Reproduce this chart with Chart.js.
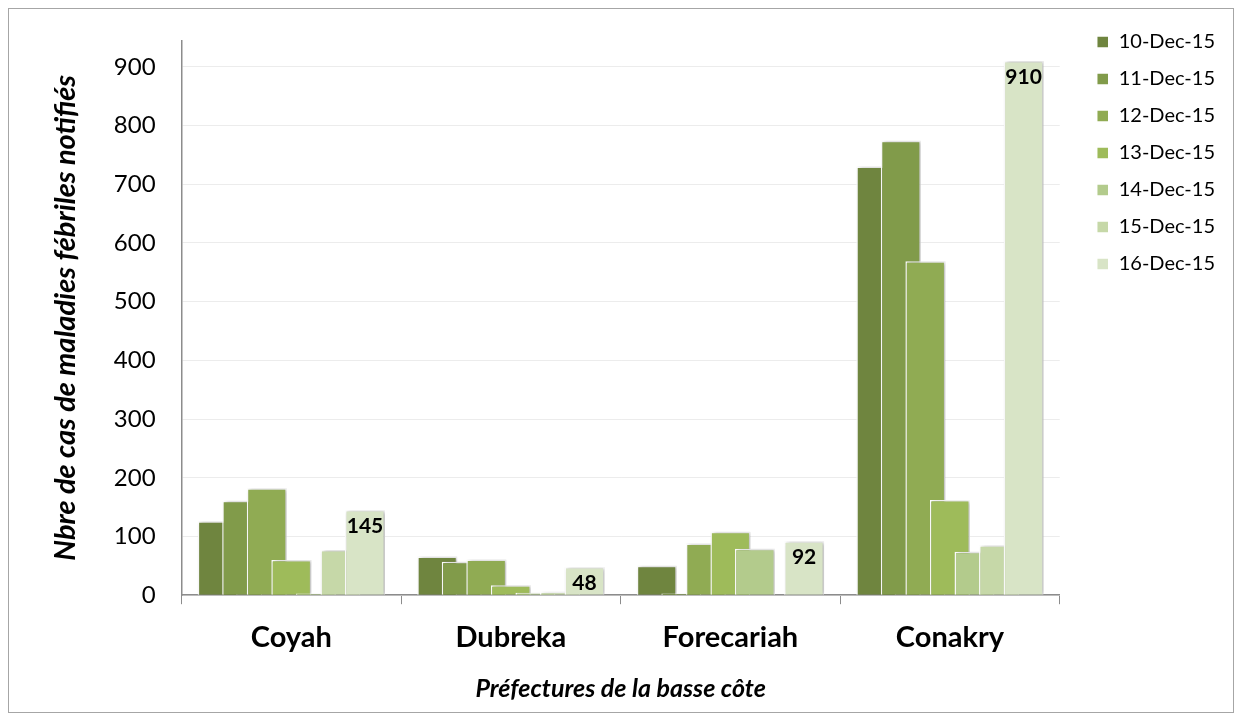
<!DOCTYPE html>
<html>
<head>
<meta charset="utf-8">
<script src="https://cdn.jsdelivr.net/npm/chart.js@4.4.1/dist/chart.umd.min.js"></script>
<style>
    html, body { margin: 0; padding: 0; background: #fff; }
    #frame {
        position: absolute; left: 8px; top: 8px;
        width: 1224px; height: 703px;
        border: 1px solid #a6a6a6;
    }
    #wrap { position: absolute; left: 0; top: 0; width: 1241px; height: 721px; }
</style>
</head>
<body>
<div id="frame"></div>
<div id="wrap"><canvas id="chart"></canvas></div>
<script>
const prefectures = ['Coyah', 'Dubreka', 'Forecariah', 'Conakry'];
const dates = ['10-Dec-15', '11-Dec-15', '12-Dec-15', '13-Dec-15', '14-Dec-15', '15-Dec-15', '16-Dec-15'];

// one array per day, values per prefecture
const dec10 = [126, 66, 50, 730];
const dec11 = [161, 57, 3, 774];
const dec12 = [182, 61, 88, 569];
const dec13 = [60, 17, 108, 162];
const dec14 = [3, 4, 79, 74];
const dec15 = [77, 6, 0, 85];
const dec16 = [145, 48, 92, 910];

const yTicks = [0, 100, 200, 300, 400, 500, 600, 700, 800, 900];

const seriesValues = [dec10, dec11, dec12, dec13, dec14, dec15, dec16];
const colors = ['#6f853f', '#819b4a', '#90ab53', '#9ebb5a', '#b3cb8c', '#c6d8a8', '#d8e4c6'];

const FONT = 'Lato, "Open Sans", sans-serif';

// bars overlap: draw first day first so later days sit on top
const forwardDraw = {
    id: 'forwardDraw',
    beforeDatasetsDraw(chart) {
        const metas = chart.getSortedVisibleDatasetMetas();
        for (let i = 0; i < metas.length; i++) {
            chart._drawDataset(metas[i]);
        }
        return false;
    }
};

// soft shadow on the bars, like the original
const barShadow = {
    id: 'barShadow',
    beforeDatasetDraw(chart) {
        const ctx = chart.ctx;
        ctx.save();
        ctx.shadowColor = 'rgba(0,0,0,0.28)';
        ctx.shadowBlur = 4;
        ctx.shadowOffsetX = 2;
        ctx.shadowOffsetY = 0;
    },
    afterDatasetDraw(chart) {
        chart.ctx.restore();
    }
};

// move the legend a bit right and up of where the layout puts it
const legendShift = {
    id: 'legendShift',
    afterLayout(chart) {
        const lg = chart.legend;
        lg.left += 20; lg.right += 20;
        lg.top -= 25; lg.bottom -= 25;
    }
};

// value labels on the last day only
const lastDayLabels = {
    id: 'lastDayLabels',
    afterDraw(chart) {
        const idx = seriesValues.length - 1;
        const meta = chart.getDatasetMeta(idx);
        const ctx = chart.ctx;
        ctx.save();
        ctx.font = 'bold 21px ' + FONT;
        ctx.fillStyle = '#000';
        ctx.textAlign = 'center';
        ctx.textBaseline = 'middle';
        meta.data.forEach((bar, i) => {
            ctx.fillText(chart.data.datasets[idx].data[i], bar.x, bar.y + 16);
        });
        ctx.restore();
    }
};

document.addEventListener('DOMContentLoaded', () => {
    const ctx = document.getElementById('chart').getContext('2d');
    new Chart(ctx, {
        type: 'bar',
        data: {
            labels: prefectures,
            datasets: dates.map((d, i) => ({
                label: d,
                data: seriesValues[i],
                backgroundColor: colors[i],
                borderColor: '#ffffff',
                borderWidth: 1.5,
                borderSkipped: 'bottom',
                categoryPercentage: 0.783,
                barPercentage: 1.63
            }))
        },
        options: {
            responsive: true,
            maintainAspectRatio: false,
            animation: false,
            layout: {
                padding: { top: 40, bottom: 17, left: 48, right: 36 }
            },
            plugins: {
                tooltip: { enabled: false },
                legend: {
                    position: 'right',
                    align: 'start',
                    labels: {
                        boxWidth: 12,
                        boxHeight: 12,
                        padding: 17,
                        color: '#000',
                        font: { family: FONT, size: 20 }
                    }
                }
            },
            scales: {
                x: {
                    grid: {
                        offset: true,
                        drawOnChartArea: false,
                        drawTicks: true,
                        tickLength: 9,
                        color: '#8c8c8c'
                    },
                    border: { color: '#8c8c8c', width: 1.5 },
                    ticks: {
                        color: '#000',
                        padding: 16,
                        font: { family: FONT, size: 29, weight: 'bold' }
                    },
                    title: {
                        display: true,
                        text: 'Préfectures de la basse côte',
                        color: '#000',
                        padding: { top: 3, bottom: 0 },
                        font: { family: FONT, size: 25, weight: 'bold', style: 'italic' }
                    }
                },
                y: {
                    min: 0,
                    max: 945,
                    afterBuildTicks: axis => {
                        axis.ticks = yTicks.map(v => ({ value: v }));
                    },
                    grid: {
                        color: '#ececec',
                        drawTicks: false
                    },
                    border: { color: '#8c8c8c', width: 1.5 },
                    ticks: {
                        color: '#000',
                        padding: 26,
                        font: { family: FONT, size: 24 }
                    },
                    title: {
                        display: true,
                        text: 'Nbre de cas de maladies fébriles notifiés',
                        color: '#000',
                        padding: { top: 0, bottom: 5 },
                        font: { family: FONT, size: 29, weight: 'bold', style: 'italic' }
                    }
                }
            }
        },
        plugins: [forwardDraw, barShadow, legendShift, lastDayLabels]
    });
});
</script>
</body>
</html>
